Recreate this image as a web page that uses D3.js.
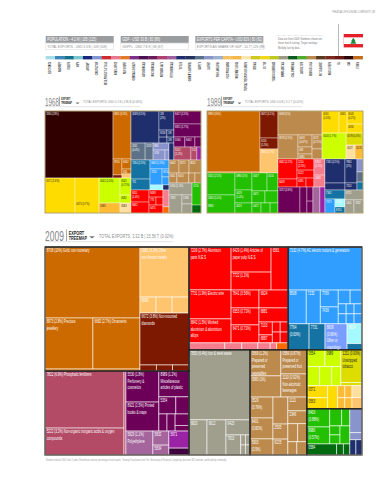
<!DOCTYPE html>
<html><head><meta charset="utf-8">
<script src="https://cdn.jsdelivr.net/npm/d3@7"></script>
<style>html,body{margin:0;background:#fff}svg{display:block}text{font-family:"Liberation Sans",sans-serif}</style>
</head><body><svg id="c" width="387" height="480"></svg>
<script>
const communities=["ELECTRONICS","MACHINERY","BOILERS","SHIPS","AIRCRAFT","CONSTRUCTION","METAL PRODUCTS & TOOLS","HOME & OFFICE","PULP & PAPER","CHEMICALS & HEALTH","AGROCHEMICALS","MISC CHEMICALS","INORGANIC SALTS","PETROCHEMICALS","TEXTILES","GARMENTS & APPAREL","CARPETS","LEATHER","FISH & SHELLFISH","FOOD PROCESSING","MILK, MEAT & EGGS","TROPICAL TREECROPS & FLOWERS","CEREALS","COTTON","TOBACCO & BEVERAGE","MINING & METALS","COAL & MINERALS","AGRICULTURE","SEAFOOD & OILS","NOT CLASSIFIED","MISC & OTHERS","OIL","GAS","STONES"];
const communityColors=["#a6dbe8","#3f86b9","#14708f","#7cc6d0","#1b2578","#7f96d0","#cf2a30","#e87890","#e37a28","#7a2f8a","#4a1050","#6a1a5a","#b04070","#a060a0","#1f2f6e","#24335f","#5a7088","#8a94c8","#9ab0d0","#f5c060","#f2b64a","#fbe6b0","#ccc81e","#f2d81a","#bcc81e","#9c9a86","#0d5a20","#4fae30","#b98a4e","#5a3a1e","#7a2a1e","#6a1a14","#2a0808","#c06c1c"];
const cellColors={stones:"#cc6a00",lightOrange:"#ffc46e",ruby:"#7c1900",crude:"#300000",yellow:"#ffdc00",amber:"#ffbb33",cream:"#ffdf9e",lime:"#ccff00",olive:"#dddd00",tan:"#bc8a4c",red:"#ff0000",pink:"#f67d8d",orange:"#ff6a00",gray:"#a09e8c",green:"#22c000",darkGreen:"#006a10",blue:"#2f9eff",teal:"#1573a3",peri:"#7a9eff",cyan:"#a4faff",navy:"#1f2f6e",slate:"#5d7288",lilac:"#8a94cc",purple:"#6c0058",rose:"#b34a66",mauve:"#a4649c",magenta:"#9a22a4",plum:"#3f0040"};
const darkText=new Set(["yellow","amber","cream","lime","olive"]);

const L=(value,label)=>({value,label}), H=(...c)=>({split:"row",children:c}), V=(...c)=>({split:"col",children:c});
const G=(group,node)=>({...node,group}), B=node=>({...node,block:true});

// ---------- 1968 ----------
const a68crude=G("crude",L(28.63,"3330 (28%)"));
const a68orange=V(
  G("stones",L(5.43,"6811 (6.5%)")),
  H(V(G("stones",L(.90,"9710")),G("ruby",L(.17))),
    V(G("stones",L(.57,"6662")),G("stones",L(.28,"666")),G("lightOrange",L(.23)))));
const a68yellow=G("yellow",H(L(6.60,"0571 (5.6%)"),L(5.28,"|||||0573 (3.7%)")));
const a68lime=H(
  V(G("lime",L(3.30,"0542 (2.0%)")),G("amber",L(1.32,"0585"))),
  V(G("lime",L(1.18,"0545|(0.71%)")),G("lime",L(.55,"0582")),G("cream",L(.69,"0583"))));
const a68navy=V(
  H(G("navy",L(5.63,"2039 (3.5%)")),
    G("navy",V(L(1.79,"2/8|(2%)"),H(L(.35,"8118"),L(.31,"2/8")),H(L(.30),L(.26,"2/8"))))),
  H(G("slate",H(L(1.50,"2011|(0.4%)"),L(.85,"2202"))),
    G("lilac",V(L(.70,"884"),H(L(.75,"1/58"),L(.25)))),
    G("navy",L(.53))));
const a68purple=V(
  G("purple",V(L(2.21,"8417 (2.3%)"),L(2.21,"8921 (1.7%)"),H(L(.69,"5530"),L(.63,"8462"),L(.38)))),
  H(G("rose",H(L(1.39,"5512|(1.2%)"),L(.49,"552"))),G("magenta",L(.33))));
const a68blue=H(
  G("teal",V(L(2.27,"7264 (2.3%)"),L(1.31,"721"))),
  V(G("blue",L(1.07,"8462 (1.3%)")),
    H(G("blue",L(1.21,"7232")),G("blue",V(L(.35,"8710"),L(.35)))),
    H(G("cyan",L(.41)),G("navy",L(.19)))));
const a68red=H(
  G("red",H(V(L(1.36,"8411|(1.4%)"),L(1.24,"6842")),V(L(.62,"8439"),H(L(.35,"773"),L(.35)),L(.70,"6475")))),
  V(G("pink",L(.64)),G("orange",L(.23))));
const a68tan=G("tan",V(H(L(.82,"6642"),L(.82,"8171"),L(.98,"8651")),H(L(.50,"8411"),L(.75,"8413"),L(.38),L(.38))));
const a68gray=H(
  G("gray",V(L(1.73,"6116 (1.5%)"),H(L(1.47,"7282"),V(L(.57,"1598"),L(.57))))),
  V(G("green",L(1.24,"1210")),G("darkGreen",L(.45))));
const tree1968=H(
  V(H(a68crude,a68orange),H(a68yellow,a68lime)),
  V(H(a68navy,a68purple),H(V(a68blue,a68red),V(a68tan,a68gray))));

// ---------- 1989 ----------
const a89stones=H(
  G("stones",V(L(20.32,"8983 (20%)||||||||||||||||||||8982"),L(.33))),
  V(G("ruby",L(3.05,"6672 (3.1%)")),G("ruby",L(1.24,"6110|(1.5%)")),G("lightOrange",L(2.71,"2682 (2.7%)"))));
const a89green=G("green",H(
  V(L(3.87,"0501 (2.5%)"),L(3.17,"0584 (3.4%)")),
  V(L(1.82,"0980 (1%)"),L(1.39,"0429|(1.4%)"),L(1.07,"0423")),
  V(H(L(1.70,"0437"),L(1.24,"0554")),H(L(.98,"0671"),L(.98)),H(L(.57,"0472"),L(.57),L(.50)))));
const a89tan=G("tan",V(
  L(6.64,"0568 (5%)"),
  H(L(3.02,"8579 (2.5%)"),V(L(1.06,"0619|(0.67%)"),L(.62,"069"),L(.44,"0681")),V(L(.88,"0575|(0.71%)"),L(.63)))));
const a89yellow=V(
  H(G("yellow",L(2.35,"0561|(2.4%)")),G("yellow",L(1.11,"0565")),G("yellow",V(L(1.31,"0545|(0.2%)"),L(.90,"0592")))),
  H(G("lime",L(3.92,"0543 (1.7%)")),V(G("olive",L(1.28,"0578 (0.3%)")),H(G("cream",L(.79,"0527")),G("amber",L(.70,"0576"))))));
const a89red=H(
  G("red",H(V(L(2.39,"6842 (2.2%)"),L(.96,"6028")),V(L(1.18,"1210|(2.5%)"),L(.85,"6122"),H(L(.51,"6281"),L(.45))))),
  G("pink",V(L(1.11,"5953|(1.1%)"),L(.83,"2848"))));
const a89purple=H(
  G("purple",H(L(3.59,"5572 (3.8%)"),L(1.14),V(L(.53),L(.45)))),
  G("mauve",L(1.14)),G("magenta",L(.82)));
const a89navy=H(
  G("navy",V(L(3.02,"7261 (2.5%)"),L(.88))),
  G("navy",V(L(1.81,"7961|(1%)"),L(.53,"7151"))),
  V(G("lilac",L(.49)),G("slate",L(.38)),G("teal",L(.30))));
const a89teal=H(
  V(G("teal",L(1.13,"7301")),H(G("blue",L(.88,"7571")),V(G("cyan",L(.50,"8746")),G("teal",L(.38,"8751"))))),
  G("gray",V(L(1.13,"6721"),H(L(.74,"2401"),L(.74,"7282")))));
const tree1989=H(
  V(a89stones,a89green),
  V(H(a89tan,a89yellow),H(V(a89red,a89purple),V(a89navy,a89teal))));

// ---------- 2009 ----------
const b09stones=G("stones",V(
  L(10.23,"8708 (10%) Gold, non-monetary"),
  H(L(3.71,"8973 (2.8%) Precious|jewellery"),L(3.64,"6682 (2.7%) Ornaments")),
  L(.29)));
const b09metal=V(
  G("lightOrange",V(L(3.72,"2682 (3.2%) Other|non-ferrous metals"),H(L(.39,"6689"),L(.39),L(.41)))),
  G("ruby",V(L(3.86,"6672 (3.8%) Non-mounted|diamonds"),H(L(.15),L(.15),L(.15)))));
const b09rose=H(
  G("rose",V(L(6.83,"7822 (6.9%) Phosphatic fertilizers"),L(3.23,"5222 (3.2%) Non-organic inorganic acids & oxygen|compounds"))),
  G("rose",L(.25)));
const b09purple=V(
  G("purple",H(
    V(L(1.55,"5530 (1.8%)|Perfumery &|cosmetics"),L(1.45,"8921 (1.5%) Printed|books & maps")),
    V(L(1.18,"8989 (1.2%)|Miscellaneous|articles of plastic"),H(L(.44,"5334"),L(.34)),H(L(.21),L(.21),V(L(.24),L(.12)))))),
  H(G("mauve",H(L(.98,"5823 (1.1%)|Polyethylene"),V(L(.34,"5832"),L(.24,"5834")))),
    V(G("magenta",L(.52,"5671")),G("plum",L(.21)))));
const b09red=V(
  G("red",H(
    V(L(2.74,"7209 (2.7%) Aluminum|parts N.E.S"),L(1.85,"7731 (1.9%) Electric wire"),L(1.53,"6842 (1.5%) Worked|aluminium & aluminium|alloys")),
    V(H(V(L(1.52,"6429 (1.4%) Articles of|paper pulp N.E.S."),L(1.09,"7722 (1.1%)")),L(1.11,"6581")),
      H(V(L(.76,"7641 (0.56%)"),L(.72,"6353 (0.71%)"),L(.76,"6471 (0.71%)")),
        V(L(.79,"6924"),L(.62,"6881"),H(V(L(.26,"7103"),L(.16,"6887")),V(H(L(.12),L(.12)),H(L(.13),L(.13))))))))),
  H(G("pink",H(L(.38),L(.18),L(.17),L(.13),L(.07))),G("orange",L(.12))));
const b09blue=V(
  G("blue",V(
    L(4.83,"7132 (4.7%) AC electric motors & generators"),
    H(L(.93,"8508"),L(.72,"7232"),V(L(.46,"7769"),L(.46,"7439")),
      V(H(L(.25),L(.25)),H(V(L(.12),L(.12)),V(L(.12),L(.12)),V(L(.12),L(.12))))))),
  H(G("teal",H(L(.83,"7764|(0.63%)"),L(.63,"7731"))),
    G("peri",L(.87,"8939|(0.66%)|Other or|mountings")),
    V(G("cyan",L(.45,"8924")),G("teal",L(.14)))));
const b09gray=G("gray",V(
  L(6.48,"7850 (6.4%) Iron & steel waste"),
  H(L(.96,"6820"),L(1.01,"6612"),V(L(.55,"6423"),H(L(.45,"7813"),V(H(L(.07),L(.07)),H(L(.07),L(.07))))))));
const b09tan=G("tan",V(
  H(V(L(1.22,"0569 (1.2%)|Prepared or|preserved|vegetables"),L(.99,"0980 (1%)")),
    V(L(.95,"0589 (0.87%)|Prepared or|preserved fruit"),L(.91,"1110 (0.92%)|Non-alcoholic|beverages"))),
  H(V(L(.73,"0529|(0.76%)"),L(.73,"6401|(0.82%)"),L(.56,"5303|(0.5%)")),
    V(L(.61),L(.34,"2505"),L(.36,"6225")),
    V(L(.40,"1121"),L(.37,"2346"),H(L(.27),L(.25)),H(L(.18),L(.20))))));
const b09food=V(
  H(G("lime",V(H(L(.46,"0554"),L(.41,"0989")),H(L(.37),L(.35),L(.26)))),
    G("olive",V(L(1.05,"1211 (0.93%)|Unstripped|tobacco"),L(.10)))),
  H(G("yellow",H(V(L(.38,"0571"),L(.35,"0563")),L(.35))),
    G("amber",H(V(L(.13),L(.12)),V(L(.13),L(.12)))),
    V(G("cream",L(.18)),G("lightOrange",L(.17)))));
const b09green=H(
  V(G("green",H(V(L(.63,"6403|(0.88%)"),L(.59,"8980|(0.57%)")),V(H(L(.31),L(.21)),H(V(L(.14),L(.14)),L(.27))))),
    G("darkGreen",H(L(.50,"0584"),L(.11),L(.11)))),
  V(G("lilac",V(L(.44),L(.13))),G("navy",H(L(.14),L(.14)))));
const tree2009=H(
  V(B(H(b09stones,b09metal)),B(H(b09rose,b09purple))),
  V(H(B(b09red),B(b09blue)),
    H(B(b09gray),B(b09tan),V(B(b09food),B(b09green)))));

const svg=d3.select("#c");
const color=n=>{const a=n.ancestors().find(x=>x.data.group);return a?a.data.group:"tan"};

// condensed text: the installed sans is squeezed horizontally to the reference's narrow face
function T(parent,x,y,str,fs,fill,k,weight){
 return parent.append("text").attr("transform",`translate(${x},${y}) scale(${k},1)`)
  .attr("font-size",fs).attr("fill",fill).attr("font-weight",weight||"normal").text(str);
}

function drawTreemap(data,x,y,w,h,fs,lw,blocks,k){
 const root=d3.hierarchy(data).sum(d=>d.value||0);
 d3.treemap().size([w,h]).round(false).tile((n,a,b,c,d)=>(n.data.split==="row"?d3.treemapDice:d3.treemapSlice)(n,a,b,c,d))(root);
 const g=svg.append("g").attr("transform",`translate(${x},${y})`);
 const leaves=root.leaves();
 g.selectAll("rect.c").data(leaves).join("rect").attr("class","c")
  .attr("x",d=>d.x0).attr("y",d=>d.y0).attr("width",d=>d.x1-d.x0).attr("height",d=>d.y1-d.y0)
  .attr("fill",d=>cellColors[color(d)]).attr("stroke","#fff").attr("stroke-opacity",.8).attr("stroke-width",lw);
 g.selectAll("rect.b").data(root.descendants().filter(d=>d.data.block)).join("rect").attr("class","b")
  .attr("x",d=>d.x0).attr("y",d=>d.y0).attr("width",d=>d.x1-d.x0).attr("height",d=>d.y1-d.y0)
  .attr("fill","none").attr("stroke","#111").attr("stroke-width",1);
 g.append("rect").attr("width",w).attr("height",h).attr("fill","none").attr("stroke",blocks?"#8a8578":"#a08c50").attr("stroke-width",.8);
 if(blocks) g.append("line").attr("x1",0).attr("x2",w).attr("y1",0).attr("y2",0).attr("stroke","#111").attr("stroke-width",1);
 leaves.filter(d=>d.data.label).forEach(d=>{
  d.data.label.split("|").forEach((s,i)=>{ if(s) T(g,d.x0+fs*.35,d.y0+fs*1.1+i*fs*1.4,s,fs,darkText.has(color(d))?"#222":"#fff",k); });
 });
}

function header(x,y,year,total,big){
 const s=big?1.45:1;
 T(svg,x,y,year,big?15.5:11.5,"#85878a",.55);
 const lx=x+(big?21.5:14.5);
 svg.append("line").attr("x1",lx).attr("x2",lx).attr("y1",y-(big?11:9)).attr("y2",y+.5).attr("stroke","#555").attr("stroke-width",.5);
 const tx=lx+(big?2.3:1.7);
 ["EXPORT","TREEMAP"].forEach((w,i)=>T(svg,tx,y-(big?6:5.2)+i*(big?5.8:3.4),w,big?5.2:3.1,"#222",.72,"bold"));
 const ax=lx+(big?25.5:18);
 svg.append("path").attr("d",d3.line()([[ax-2*s,y-3*s],[ax+2*s,y-3*s],[ax,y-1.3*s]])+"Z").attr("fill","#777");
 T(svg,lx+(big?32.5:23.5),y-(big?2.5:2.6),total,big?5.1:3.6,"#8a8c8e",big?.75:.8);
 svg.append("line").attr("x1",x).attr("x2",x+(big?128:95)).attr("y1",y+1.2).attr("y2",y+1.2).attr("stroke","#bbb").attr("stroke-width",.4);
}

T(svg,332,13,"THE ATLAS OF ECONOMIC COMPLEXITY | 89",3.6,"#888",.56);

const statBoxes=[[45.7,"POPULATION - 4.2 M | 105 (125)","TOTAL EXPORTS - USD 3.3 B | 109 (109)"],[120.7,"GDP - USD 33 B | 82 (86)","GDPPc - USD 7.8 K | 58 (67)"],[195.3,"EXPORTS PER CAPITA - USD 829 | 80 (82)","EXPORTS AS SHARE OF GDP - 10.7 | 125 (98)"]];
statBoxes.forEach(([x,a,b])=>{
 svg.append("rect").attr("x",x).attr("y",36).attr("width",68).attr("height",6.8).attr("fill","#9a9c9e");
 svg.append("rect").attr("x",x+.2).attr("y",43.2).attr("width",67.6).attr("height",6.6).attr("fill","#fff").attr("stroke","#ccc").attr("stroke-width",.4);
 T(svg,x+1.5,41,a,4.6,"#fff",.72);
 T(svg,x+1.5,48.2,b,4.4,"#8a8c8e",.72);
});
svg.append("line").attr("x1",276).attr("x2",323).attr("y1",35.5).attr("y2",35.5).attr("stroke","#aaa").attr("stroke-width",.4).attr("stroke-dasharray",".6 .6");
["Data are from 2008. Numbers shown are","those that fit turning. Target rankings","Multiply last by data."].forEach((s,i)=>T(svg,278,40+i*4.4,s,3.4,"#777",.72));
svg.append("line").attr("x1",338.5).attr("x2",338.5).attr("y1",24).attr("y2",56).attr("stroke","#999").attr("stroke-width",.7);
const fx=d3.scaleLinear().domain([0,1]).range([343.7,363]), fy=d3.scaleLinear().domain([0,1]).range([34,47.4]);
svg.append("rect").attr("x",fx(0)).attr("y",fy(0)).attr("width",fx(1)-fx(0)).attr("height",fy(1)-fy(0)).attr("fill","#e3202a");
svg.append("rect").attr("x",fx(0)).attr("y",fy(.25)).attr("width",fx(1)-fx(0)).attr("height",fy(.75)-fy(.25)).attr("fill","#fff");
svg.append("path").attr("d",d3.line()([[fx(.5),fy(.28)],[fx(.62),fy(.55)],[fx(.57),fy(.55)],[fx(.66),fy(.72)],[fx(.34),fy(.72)],[fx(.43),fy(.55)],[fx(.38),fy(.55)]])+"Z").attr("fill","#1c8a3c");

const bx=d3.scaleBand().domain(communities).range([45.7,362.7]);
svg.selectAll("rect.s").data(communities).join("rect").attr("class","s").attr("x",d=>bx(d)).attr("y",56).attr("width",bx.bandwidth()+.2).attr("height",3.4).attr("fill",(d,i)=>communityColors[i]);
svg.selectAll("text.s").data(communities).join("text").attr("class","s").attr("font-size",3).attr("fill","#333").attr("font-weight","bold")
 .attr("text-anchor","end").attr("transform",d=>`translate(${bx(d)+bx.bandwidth()/2+1},62) rotate(-90) scale(.55,1)`).text(d=>d);

header(45,105.5,"1968","TOTAL EXPORTS: USD 0.1 B | 236 B (0.06%)",false);
header(207,105.5,"1989","TOTAL EXPORTS: USD 0.6 B | 3.1 T (0.02%)",false);
header(45,240.5,"2009","TOTAL EXPORTS: 3.32 B | 15.56 T (0.02%)",true);

drawTreemap(tree1968,45,111,156,102,3.3,.45,false,.74);
drawTreemap(tree1989,207,111,156,102,3.3,.45,false,.74);
drawTreemap(tree2009,45,247,317,208,4.7,.7,true,.64);

T(svg,46,460.5,"Numbers indicate 2002 4-ten 2 codes. Parentheses indicate percentage of total exports. Treemap Visualization from The Observatory of Economic Complexity, data from UN Comtrade, world trade by commodity.",2.7,"#999",.72);
</script></body></html>
